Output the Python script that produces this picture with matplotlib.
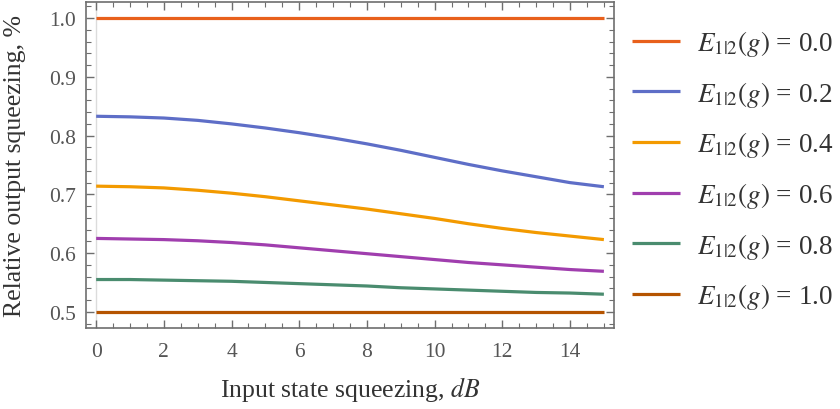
import matplotlib.pyplot as plt
from matplotlib.ticker import MultipleLocator

plt.rcParams['font.family'] = ['Liberation Serif', 'DejaVu Serif']
plt.rcParams['mathtext.fontset'] = 'stix'

# input squeezing in dB
squeeze_db = [0, 1, 2, 3, 4, 5, 6, 7, 8, 9, 10, 11, 12, 13, 14, 15]

# relative output squeezing for each entanglement level E_{1|2}(g)
rel_e00 = [1.0] * 16
rel_e02 = [0.833, 0.832, 0.830, 0.826, 0.820, 0.813, 0.805, 0.796, 0.786,
           0.775, 0.763, 0.751, 0.740, 0.730, 0.720, 0.713]
rel_e04 = [0.714, 0.713, 0.711, 0.707, 0.702, 0.696, 0.689, 0.682, 0.675,
           0.667, 0.659, 0.650, 0.642, 0.635, 0.629, 0.623]
rel_e06 = [0.625, 0.624, 0.623, 0.621, 0.618, 0.614, 0.609, 0.604, 0.599,
           0.594, 0.589, 0.584, 0.580, 0.576, 0.572, 0.569]
rel_e08 = [0.555, 0.555, 0.554, 0.553, 0.552, 0.550, 0.548, 0.546, 0.544,
           0.541, 0.539, 0.537, 0.535, 0.533, 0.532, 0.530]
rel_e10 = [0.5] * 16

series = [rel_e00, rel_e02, rel_e04, rel_e06, rel_e08, rel_e10]
ent_values = ['0.0', '0.2', '0.4', '0.6', '0.8', '1.0']
labels = [r'$E_{1|2}(g)$ = ' + v for v in ent_values]
colors = ['#E8601C', '#5E6EC7', '#F39A00', '#A03EAE', '#4A8C6F', '#B55400']

fig = plt.figure(figsize=(8.4, 4.1), dpi=100)
ax = fig.add_axes([0.1024, 0.1976, 0.6286, 0.795])

ax.axvline(0, color='#dcdcdc', lw=1.0, zorder=1)
for ys, lab, c in zip(series, labels, colors):
    ax.plot(squeeze_db, ys, color=c, lw=2.3, label=lab, solid_capstyle='butt', zorder=3)

ax.set_xlim(-0.3, 15.3)
ax.set_ylim(0.4725, 1.0275)
ax.xaxis.set_major_locator(MultipleLocator(2))
ax.xaxis.set_minor_locator(MultipleLocator(0.5))
ax.yaxis.set_major_locator(MultipleLocator(0.1))
ax.yaxis.set_minor_locator(MultipleLocator(0.02))
ax.yaxis.set_major_formatter(plt.FormatStrFormatter('%.1f'))

frame_col = '#6e6e6e'
for sp in ax.spines.values():
    sp.set_color(frame_col)
    sp.set_linewidth(1.2)
ax.tick_params(which='both', direction='in', top=True, right=True,
               color=frame_col, labelcolor='#555555', labelsize=15.5)
ax.tick_params(which='major', length=6, width=1.0, pad=7)
ax.tick_params(axis='x', which='major', pad=10)
ax.tick_params(which='minor', length=3.5, width=0.8)

ax.set_xlabel(r'Input state squeezing, $dB$', fontsize=18.5, color='#333333')
ax.set_ylabel('Relative output squeezing, %', fontsize=18.5, color='#333333')
ax.xaxis.set_label_coords(0.5, -0.14)
ax.yaxis.set_label_coords(-0.113, 0.5)

leg = fig.legend(loc='upper left', bbox_to_anchor=(0.7395, 0.955), frameon=False,
                 borderaxespad=0, fontsize=19.5, handlelength=1.77,
                 handletextpad=0.63, labelspacing=0.76)
for t in leg.get_texts():
    t.set_color('#333333')

fig.savefig('out.png', dpi=100)
